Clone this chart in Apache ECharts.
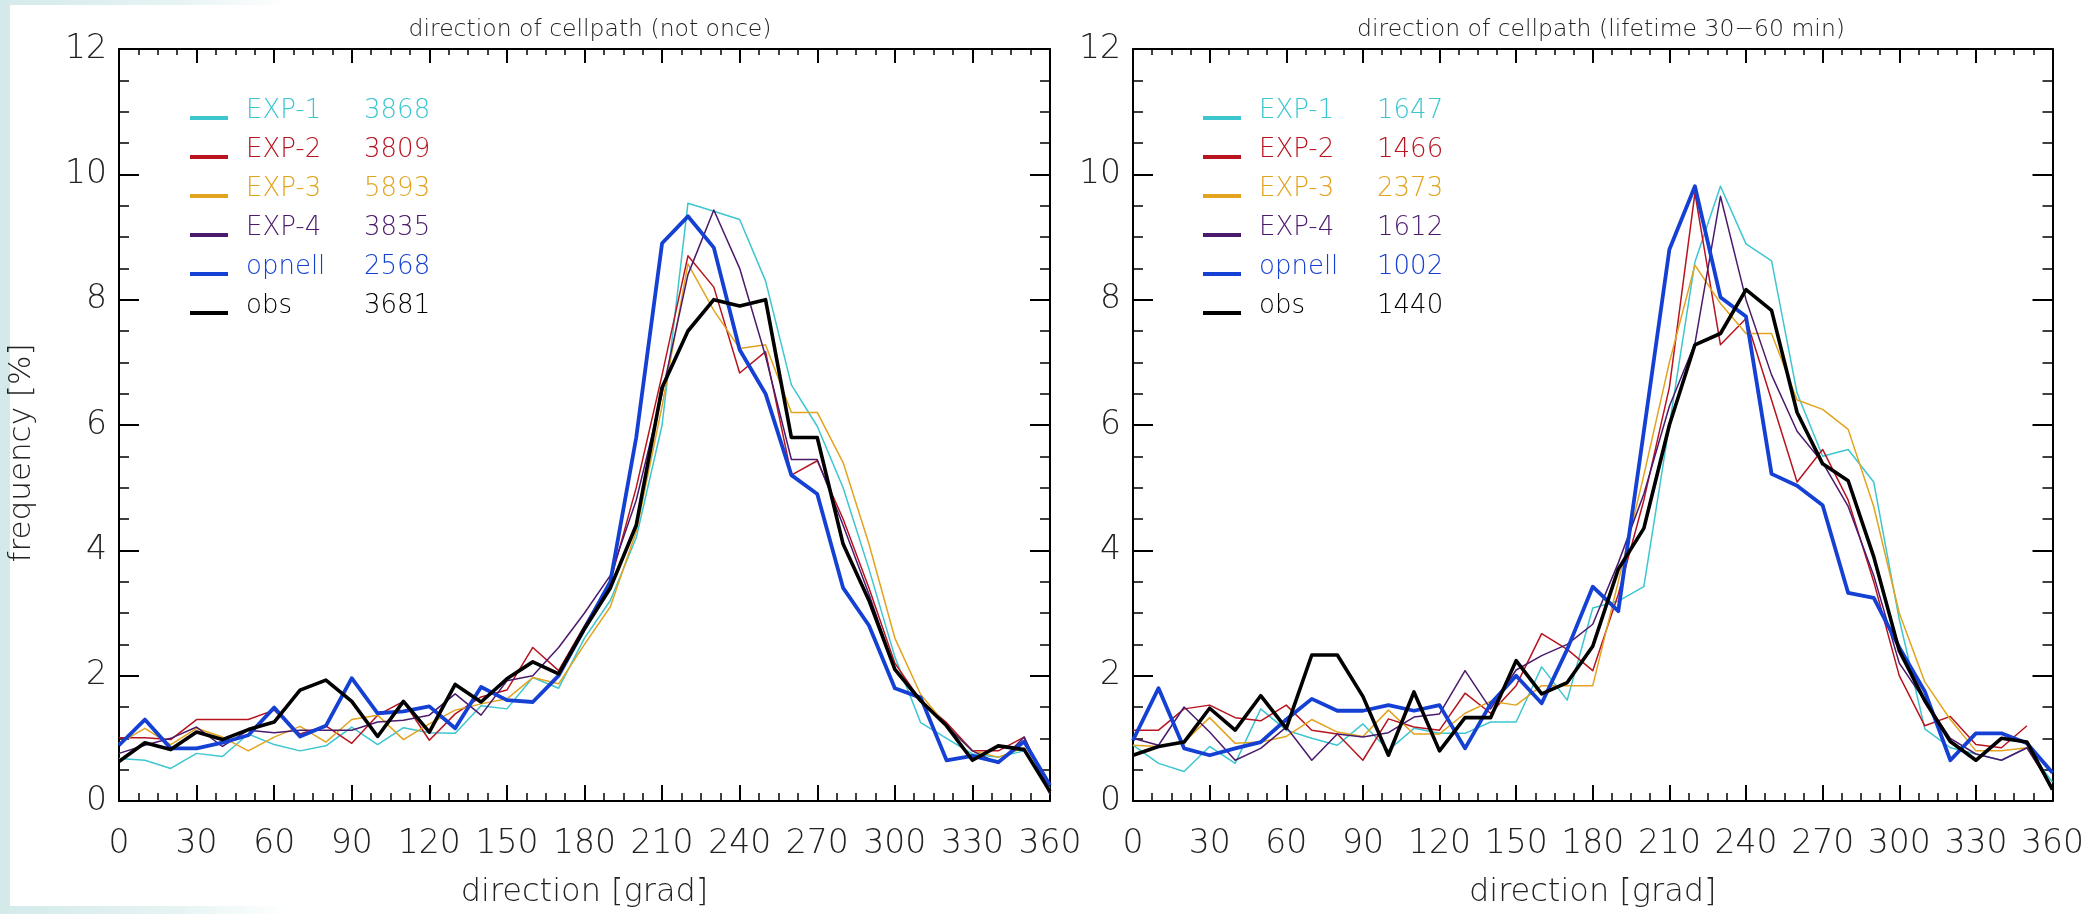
<!DOCTYPE html>
<html><head><meta charset="utf-8">
<script src="https://cdn.jsdelivr.net/npm/echarts@6/dist/echarts.min.js"></script>
<style>html,body{margin:0;padding:0;background:#fff;overflow:hidden}#c{width:2087px;height:914px}</style>
</head><body><div id="c"></div>
<script>
// ---- data ----
const directions = [0,10,20,30,40,50,60,70,80,90,100,110,120,130,140,150,160,170,180,190,200,210,220,230,240,250,260,270,280,290,300,310,320,330,340,350,360];
const seriesNames = ['EXP-1','EXP-2','EXP-3','EXP-4','opnell','obs'];
const titles = ['direction of cellpath (not once)', 'direction of cellpath (lifetime 30\u221260 min)'];
const countsLeft  = [3868, 3809, 5893, 3835, 2568, 3681];
const countsRight = [1647, 1466, 2373, 1612, 1002, 1440];

// left panel (not once)
const L_exp1   = [0.68,0.65,0.52,0.76,0.71,1.07,0.90,0.80,0.88,1.18,0.90,1.17,1.09,1.08,1.52,1.47,1.97,1.80,2.6,3.2,4.2,6.0,9.54,9.41,9.28,8.3,6.64,5.98,5.0,3.7,2.3,1.25,1.0,0.75,0.7,0.8,0.2];
const L_exp2   = [1.01,1.01,0.98,1.30,1.30,1.30,1.45,1.07,1.2,0.92,1.37,1.59,0.97,1.39,1.66,1.77,2.45,2.08,2.8,3.5,5.0,6.8,8.7,8.2,6.83,7.17,5.2,5.43,4.5,3.4,2.2,1.6,1.25,0.8,0.8,1.02,0.15];
const L_exp3   = [0.92,1.16,0.90,1.16,1.02,0.80,1.02,1.19,0.94,1.30,1.37,0.98,1.23,1.45,1.55,1.63,1.97,1.87,2.5,3.1,4.3,6.3,8.57,7.83,7.22,7.28,6.2,6.2,5.4,4.1,2.6,1.7,1.2,0.8,0.7,0.85,0.15];
const L_exp4   = [0.76,0.89,1.0,1.18,0.87,1.13,1.09,1.13,1.13,1.13,1.26,1.29,1.37,1.71,1.37,1.92,2.0,2.45,3.0,3.6,4.8,6.5,8.4,9.43,8.5,7.1,5.45,5.45,4.4,3.3,2.1,1.6,1.2,0.8,0.6,1.02,0.1];
const L_opnell = [0.89,1.30,0.84,0.84,0.93,1.05,1.49,1.03,1.20,1.96,1.40,1.43,1.51,1.16,1.82,1.61,1.58,2.0,2.75,3.5,5.8,8.9,9.33,8.83,7.2,6.5,5.2,4.9,3.4,2.8,1.8,1.65,0.65,0.72,0.62,0.95,0.25];
const L_obs    = [0.63,0.93,0.82,1.10,0.98,1.14,1.26,1.77,1.93,1.59,1.03,1.59,1.10,1.86,1.58,1.95,2.22,2.03,2.75,3.4,4.4,6.6,7.5,8.0,7.9,8.0,5.8,5.8,4.1,3.2,2.1,1.6,1.2,0.65,0.88,0.82,0.15];

// right panel (lifetime 30-60 min)
const R_exp1   = [0.89,0.60,0.47,0.87,0.60,1.47,1.13,1.0,0.89,1.23,0.81,1.16,1.08,1.08,1.26,1.26,2.14,1.61,3.08,3.19,3.42,6.0,8.6,9.81,8.89,8.62,6.51,5.5,5.61,5.09,2.9,1.15,0.85,0.75,0.65,0.85,0.3];
const R_exp2   = [1.13,1.13,1.47,1.53,1.33,1.28,1.53,1.13,1.07,0.65,1.31,1.18,1.13,1.72,1.40,1.84,2.67,2.42,2.08,3.3,4.8,6.6,9.7,7.28,7.7,6.4,5.09,5.61,4.8,3.5,2.0,1.2,1.35,0.9,0.85,1.2,null];
const R_exp3   = [0.89,0.87,0.94,1.33,0.92,0.94,1.03,1.30,1.10,1.03,1.45,1.07,1.07,1.40,1.59,1.53,1.84,1.84,1.84,3.5,5.2,7.0,8.55,7.94,7.46,7.46,6.4,6.25,5.93,4.7,3.0,1.9,1.3,0.8,0.8,0.85,0.2];
const R_exp4   = [1.0,0.89,1.50,1.10,0.65,0.84,1.18,0.65,1.07,1.02,1.09,1.34,1.39,2.08,1.47,2.09,2.32,2.50,2.82,3.8,4.9,6.3,7.3,9.65,8.0,6.8,5.9,5.4,4.7,3.6,2.2,1.6,1.0,0.75,0.65,0.85,0.2];
const R_opnell = [0.97,1.80,0.84,0.73,0.84,0.94,1.30,1.63,1.44,1.44,1.53,1.44,1.53,0.84,1.55,2.0,1.56,2.42,3.42,3.03,5.9,8.8,9.81,8.04,7.73,5.22,5.03,4.72,3.32,3.24,2.45,1.75,0.65,1.08,1.08,0.92,0.45];
const R_obs    = [0.73,0.87,0.94,1.48,1.13,1.68,1.16,2.33,2.33,1.67,0.73,1.74,0.80,1.33,1.33,2.24,1.71,1.89,2.47,3.7,4.35,6.0,7.28,7.46,8.16,7.83,6.2,5.38,5.11,3.9,2.4,1.6,0.95,0.65,1.0,0.94,0.18];

// ---- styles ----
const colors = ['#3cc6d0','#b8141f','#e2a31e','#4b1a6c','#1440d4','#000000'];
const widths = [1.5,1.5,1.5,1.5,3.8,3.6];
const FONT = '"DejaVu Sans", sans-serif';
const leftData  = [L_exp1, L_exp2, L_exp3, L_exp4, L_opnell, L_obs];
const rightData = [R_exp1, R_exp2, R_exp3, R_exp4, R_opnell, R_obs];

const chart = echarts.init(document.getElementById('c'), null, {renderer:'canvas'});

function xAx(grid, pos, showName) {
  return {
    type:'value', gridIndex:grid, position:pos, min:0, max:360, interval:30,
    axisLine:{show:true, onZero:false, lineStyle:{color:'#000', width:2}},
    axisTick:{show:true, inside:true, length: pos==='bottom'?16:14, lineStyle:{color:'#000', width:2}},
    minorTick:{show:true, splitNumber:4, length: pos==='bottom'?8:6, lineStyle:{color:'#000', width:1.5}},
    splitLine:{show:false},
    axisLabel:{show: pos==='bottom', margin:27, fontFamily:FONT, fontSize:33, fontWeight:200, color:'#222'},
    name: showName ? 'direction [grad]' : '', nameLocation:'middle', nameGap:76,
    nameTextStyle:{fontFamily:FONT, fontSize:32, fontWeight:200, color:'#222'}
  };
}
function yAx(grid, pos, showName) {
  return {
    type:'value', gridIndex:grid, position:pos, min:0, max:12, interval:2,
    axisLine:{show:true, onZero:false, lineStyle:{color:'#000', width:2}},
    axisTick:{show:true, inside:true, length:20, lineStyle:{color:'#000', width:2}},
    minorTick:{show:true, splitNumber:4, length:10, lineStyle:{color:'#000', width:1.5}},
    splitLine:{show:false},
    axisLabel:{show: pos==='left', margin:12, fontFamily:FONT, fontSize:33, fontWeight:200, color:'#222'},
    name: showName ? 'frequency [%]' : '', nameLocation:'middle', nameGap:82, nameRotate:90,
    nameTextStyle:{fontFamily:FONT, fontSize:31, fontWeight:200, color:'#222', padding:[0,56,0,0]}
  };
}

function legendFor(left, counts) {
  return {
    orient:'vertical', left:left, top:93, itemGap:0, itemWidth:38, itemHeight:4,
    icon:'rect', selectedMode:false,
    data: seriesNames.map((n,i)=>({name:n, textStyle:{color:colors[i]}})),
    formatter: (name)=> '{a|'+name+'}{b|'+counts[seriesNames.indexOf(name)]+'}',
    textStyle:{fontFamily:FONT, fontSize:26, fontWeight:200, lineHeight:24, padding:[0,0,14,13],
      rich:{a:{width:118, fontFamily:FONT, fontSize:26, fontWeight:200, lineHeight:24},
            b:{fontFamily:FONT, fontSize:26, fontWeight:200, lineHeight:24}}}
  };
}

const series = [];
[leftData, rightData].forEach((set, g)=>{
  set.forEach((vals, i)=>{
    series.push({
      type:'line', name:seriesNames[i], xAxisIndex:g*2, yAxisIndex:g*2,
      data: directions.map((d,k)=>[d, vals[k]]),
      showSymbol:false, symbol:'none', connectNulls:false,
      color: colors[i],
      lineStyle:{color:colors[i], width:widths[i], join:'round'},
      z: 2 + i, animation:false
    });
  });
});

const fade = {type:'linear', x:0, y:0, x2:1, y2:0, colorStops:[{offset:0,color:'#d4eaea'},{offset:0.6,color:'#e6f3f3'},{offset:1,color:'#ffffff'}]};

chart.setOption({
  backgroundColor:'#ffffff',
  animation:false,
  title: [
    {text:titles[0], left:585, top:13, textAlign:'center', textStyle:{fontFamily:FONT, fontSize:23.5, fontWeight:200, color:'#222'}},
    {text:titles[1], left:1596, top:13, textAlign:'center', textStyle:{fontFamily:FONT, fontSize:23.5, fontWeight:200, color:'#222'}}
  ],
  grid: [
    {left:119, top:49, width:931, height:759},
    {left:1133, top:49, width:927, height:759}
  ],
  xAxis: [xAx(0,'bottom',true), xAx(0,'top',false), xAx(1,'bottom',true), xAx(1,'top',false)],
  yAxis: [yAx(0,'left',true), yAx(0,'right',false), yAx(1,'left',false), yAx(1,'right',false)],
  legend: [legendFor(185, countsLeft), legendFor(1198, countsRight)],
  series: series,
  graphic: [
    {type:'rect', left:0, top:0, shape:{width:10, height:914}, style:{fill:'#d4eaea'}, silent:true, z:-1},
    {type:'rect', left:0, top:0, shape:{width:290, height:5}, style:{fill:fade}, silent:true, z:-1},
    {type:'rect', left:0, top:906, shape:{width:290, height:8}, style:{fill:fade}, silent:true, z:-1}
  ]
});
</script></body></html>
